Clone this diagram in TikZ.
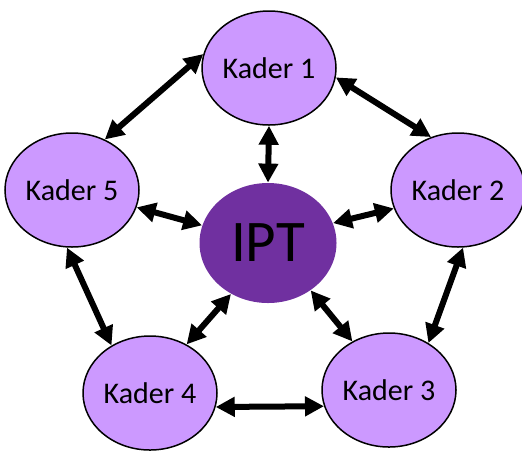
\documentclass[tikz,border=0pt]{standalone}
\usepackage{fontspec}
\setmainfont{Carlito}
\usetikzlibrary{shapes.geometric, arrows.meta}

\definecolor{kaderfill}{HTML}{CC99FF}
\definecolor{iptfill}{HTML}{7030A0}

\begin{document}
\begin{tikzpicture}[x=0.5pt, y=-0.5pt,
    kader/.style={ellipse, draw=black, line width=0.75pt, fill=kaderfill,
        minimum width=67pt, minimum height=57pt, inner sep=0pt,
        font=\fontsize{15}{18}\selectfont},
    center/.style={ellipse, fill=iptfill, minimum width=68.5pt,
        minimum height=60pt, inner sep=0pt, font=\fontsize{29.5}{34}\selectfont},
    link/.style={{Triangle[length=9.5pt,width=9.5pt]}-{Triangle[length=9.5pt,width=9.5pt]},
        line width=3pt}]
    \useasboundingbox (0,0) rectangle (522,450);

    % Nodes
    \node[center] (ipt) at (268,243) {IPT};
    \node[kader] (k1) at (269,68)  {Kader 1};
    \node[kader] (k2) at (458,190) {Kader 2};
    \node[kader] (k3) at (389,390) {Kader 3};
    \node[kader] (k4) at (150,393) {Kader 4};
    \node[kader] (k5) at (72,190)  {Kader 5};

    % Outer ring
    \draw[link] (k1.168) -- (k5.57);
    \draw[link] (k1.352) -- (k2.117);
    \draw[link] (k2.275) -- (k3.50);
    \draw[link] (k5.265) -- (k4.129);
    \draw[link] (k4.348) -- (k3.194);

    % Spokes to IPT
    \draw[link] (k1.270) -- (ipt.90);
    \draw[link] (k5.345) -- (ipt.165);
    \draw[link] (k2.196) -- (ipt.17);
    \draw[link] (k4.53)  -- (ipt.234);
    \draw[link] (k3.127) -- (ipt.312);

\end{tikzpicture}
\end{document}
